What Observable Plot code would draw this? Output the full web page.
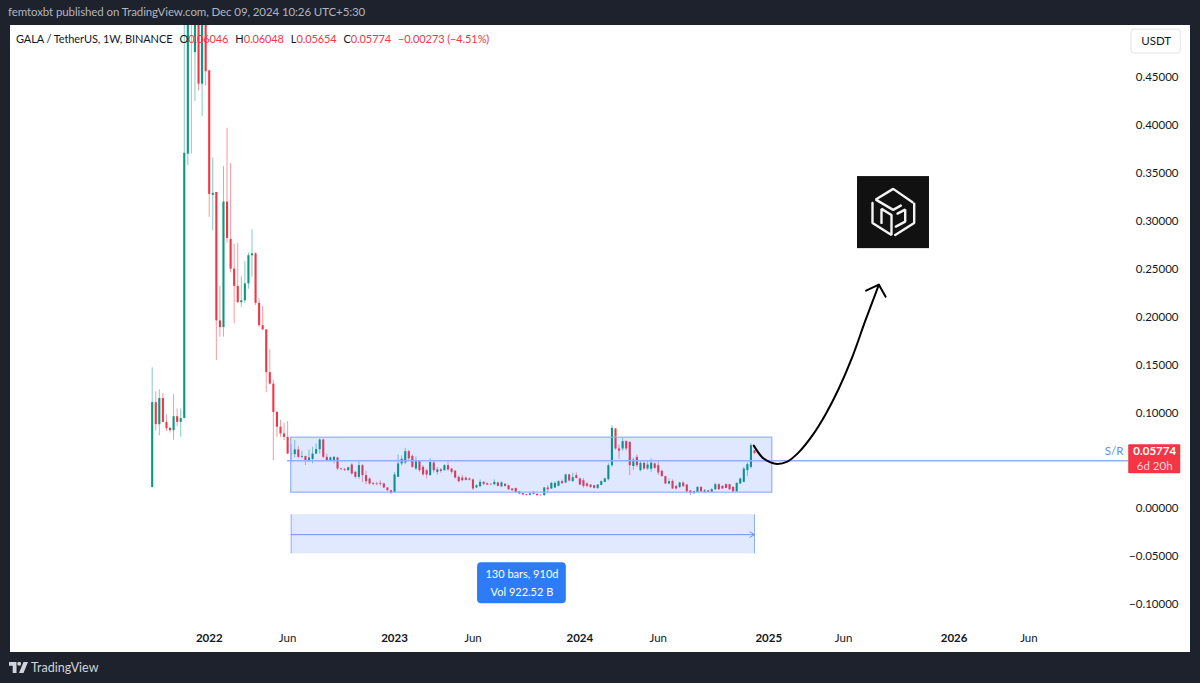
<!DOCTYPE html>
<html>
<head>
<meta charset="utf-8">
<script src="https://cdn.jsdelivr.net/npm/d3@7"></script>
<script src="https://cdn.jsdelivr.net/npm/@observablehq/plot@0.6"></script>
<style>
html,body{margin:0;padding:0;background:#1e222d;width:1200px;height:683px;overflow:hidden;font-family:Lato,sans-serif}
#head{height:25px;line-height:24px;padding-left:8px;box-sizing:border-box;color:#b2b5be;font-size:11.5px;letter-spacing:-.1px;white-space:nowrap}
#wrap{position:relative;margin-left:10px;width:1180px;height:627px;background:#fff}
#wrap svg{display:block}
#legend{position:absolute;left:6px;top:6px;font-size:11px;letter-spacing:-.1px;line-height:16px;color:#131722;white-space:nowrap}
#legend span{margin-right:7px}
#legend b{font-weight:400;color:#f23645}
#foot{height:31px;display:flex;align-items:center;padding-left:9px;color:#d1d4dc;font-size:12.5px}
#foot svg{margin-right:3px}
</style>
</head>
<body>
<div id="head">femtoxbt published on TradingView.com, Dec 09, 2024 10:26 UTC+5:30</div>
<div id="wrap"><div id="legend"></div></div>
<div id="foot"><svg width="19" height="11" viewBox="0 0 19 11"><path fill="#d1d4dc" d="M0 0h7.500v11H3.700V3.700H0zM14.500 0H19l-4.500 11H10zM8.300 1.800a1.900 1.900 0 1 0 3.800 0a1.900 1.900 0 1 0-3.800 0"/></svg><span>TradingView</span></div>
<script>
const firstBar = "2021-09-13";
const opens = [
.022,.1107,.0877,.115,.09,.0838,.0814,.096,.0901,.094,
.37,.75,.476,.65,.443,.62,.457,.327,.33,.196,
.189,.32,.281,.25,.232,.215,.217,.2346,.264,.266,
.2143,.191,.1866,.142,.13,.1005,.085,.078,.0744,.057,
.0564,.0613,.0536,.0545,.0494,.0513,.057,.0616,.0717,.0536,
.05,.05,.0529,.0414,.0407,.0397,.0456,.0379,.0327,.0449,
.0345,.031,.0264,.0258,.0264,.0258,.0216,.0188,.017,.0327,
.0467,.0477,.0595,.0546,.0414,.0494,.0431,.0397,.0345,.0477,
.0379,.0405,.0397,.0449,.0414,.039,.0327,.032,.0319,.031,
.03,.0216,.023,.0275,.026,.0255,.025,.0268,.0228,.0255,
.024,.0205,.021,.0177,.0157,.0146,.014,.0164,.015,.014,
.0136,.0216,.0205,.0216,.0233,.0282,.0268,.0352,.0282,.0345,
.031,.0292,.0258,.0247,.024,.0212,.0243,.0275,.0303,.0449,
.0832,.0623,.0623,.07,.0692,.044,.0536,.0397,.0473,.0414,
.0412,.0467,.0449,.039,.0334,.0258,.0285,.0233,.0222,.0268,
.0247,.0185,.0157,.017,.0222,.0172,.0187,.0172,.0198,.025,
.0233,.025,.025,.0222,.0177,.0258,.0275,.0397,.0431,.06046];
const closes = [
.1107,.0877,.115,.09,.0835,.0814,.096,.0901,.094,.371,
.62,.62,.62,.443,.62,.456,.328,.329,.196,.189,
.32,.282,.25,.232,.215,.217,.2346,.264,.266,.2143,
.191,.1866,.142,.13,.1005,.085,.078,.0744,.057,.0564,
.0613,.0536,.0545,.0494,.053,.057,.0616,.0717,.0536,.05,
.053,.0536,.0414,.0407,.0397,.0428,.0362,.0327,.0449,.0345,
.0282,.0258,.0254,.025,.0254,.0216,.0188,.016,.0352,.0467,
.0516,.0595,.052,.0431,.049,.0397,.0352,.0352,.0483,.0397,
.0405,.0388,.0449,.0404,.0379,.032,.0282,.0292,.0295,.0298,
.0206,.024,.0275,.0254,.0247,.025,.0275,.0233,.027,.0233,
.0198,.0188,.017,.0153,.0143,.0139,.0155,.015,.0136,.0136,
.0216,.0198,.0264,.0264,.0282,.026,.0352,.0289,.0324,.0315,
.0247,.0233,.0233,.0222,.0212,.0247,.0282,.031,.0449,.0838,
.0623,.06,.07,.0623,.0449,.0508,.0449,.0473,.0414,.0456,
.0476,.0421,.0372,.0334,.0258,.0282,.0206,.0206,.0268,.023,
.0177,.0164,.0177,.0222,.0177,.0187,.0172,.0198,.025,.0198,
.0206,.0212,.0198,.0177,.0264,.031,.0414,.046,.0658,.05774];
const highs = [
.147,.122,.124,.12,.098,.085,.119,.104,.104,.6,
.68,.8,.7,.7,.7,.7,.457,.366,.33,.232,
.357,.397,.36,.276,.277,.242,.258,.267,.291,.267,
.219,.211,.187,.166,.134,.1015,.092,.089,.091,.0668,
.071,.0647,.06,.055,.0613,.064,.0675,.0728,.0728,.057,
.054,.0545,.0536,.042,.042,.043,.047,.039,.05,.046,
.039,.032,.0275,.0275,.029,.0265,.022,.019,.0376,.056,
.055,.063,.061,.056,.054,.05,.045,.041,.052,.049,
.043,.042,.046,.05,.042,.04,.034,.035,.033,.032,
.031,.025,.03,.0285,.027,.026,.03,.028,.028,.026,
.0245,.021,.0215,.018,.016,.015,.016,.018,.0155,.0145,
.022,.024,.0275,.028,.029,.03,.036,.036,.037,.0372,
.032,.0315,.027,.025,.0245,.025,.029,.032,.047,.0867,
.0835,.0665,.0734,.071,.07,.053,.056,.05,.05,.05,
.052,.048,.05,.04,.034,.031,.03,.024,.0275,.028,
.0255,.019,.018,.023,.023,.02,.019,.021,.0265,.026,
.024,.026,.0255,.023,.027,.032,.043,.048,.0679,.06048];
const lows = [
.022,.081,.076,.09,.0805,.079,.071,.0856,.0744,.094,
.358,.37,.425,.436,.409,.441,.304,.29,.1545,.179,
.179,.277,.246,.193,.214,.21,.214,.229,.2415,.212,
.189,.186,.121,.129,.05,.0744,.0744,.071,.0564,.05,
.053,.052,.052,.045,.048,.0467,.0564,.057,.0522,.049,
.049,.0467,.0397,.0397,.039,.039,.035,.031,.0303,.0275,
.025,.0245,.024,.024,.0235,.021,.018,.0145,.0165,.0325,
.0445,.046,.05,.042,.04,.038,.034,.031,.034,.037,
.035,.037,.039,.039,.036,.031,.027,.028,.029,.029,
.0188,.021,.022,.024,.024,.024,.024,.023,.022,.0225,
.019,.018,.016,.0145,.0135,.013,.0135,.0145,.0125,.013,
.013,.0155,.02,.021,.023,.0255,.026,.028,.028,.031,
.024,.0215,.022,.021,.0205,.02,.024,.027,.029,.043,
.061,.0512,.06,.06,.0345,.04,.043,.0385,.04,.04,
.038,.041,.0345,.033,.025,.025,.02,.0195,.021,.022,
.0165,.0136,.015,.0165,.017,.0165,.0165,.0165,.019,.019,
.02,.0205,.019,.017,.017,.025,.027,.0334,.0414,.05654];

// the 0.05000 label is hidden behind the last-price tag in the reference
const priceTicks = [-0.1,-0.05,0,0.1,0.15,0.2,0.25,0.3,0.35,0.4,0.45];
const yearTicks = ["2022-01-03","2023-01-02","2024-01-01","2025-01-06","2026-01-05"];
const monthTicks = ["2022-06-06","2023-06-05","2024-06-03","2025-06-02","2026-06-01"];

// drawings, positioned in bar numbers (weeks since the first bar) and prices
const rangeBox = [{b1:39,b2:174,p1:0.0167,p2:0.0741}];
const srLine = [{b1:38,b2:274,p:0.0501}];
const measureBand = [{b1:39,b2:169,p1:-0.0471,p2:-0.0063}];
const measureArrow = [{b1:39,b2:169,p:-0.0271}];
const infoBox = [{b1:91.3,b2:116.2,p1:-0.0992,p2:-0.0564}];
const infoText = [{b:103.75,p:-0.0689,t:"130 bars, 910d"},{b:103.75,p:-0.0877,t:"Vol 922.52 B"}];
const priceBox = [{b1:274,b2:288.6,p1:0.0365,p2:0.0668}];
const priceMain = [{b:281.3,p:0.0595,t:"0.05774"}];
const priceSub = [{b:281.3,p:0.0443,t:"6d 20h"}];
const srText = [{b:272.5,p:0.0595,t:"S/R"}];
const unitBox = [{b1:274.8,b2:288.6,p1:0.475,p2:0.5}];
const unitText = [{b:281.7,p:0.4875,t:"USDT"}];
const curveBars = [168.8,171.2,173.5,175.4,178.2,181.4,185.2,189,192.6,196.4,200.1,203.9];
const curvePrices = [.0658,.0535,.0483,.0467,.0491,.0588,.0762,.0989,.1249,.1579,.1962,.2338];
const headBars = [200.3,203.9,205.8];
const headPrices = [.2276,.2338,.2213];
const logoBox = [{b1:197.9,b2:218.1,p1:0.2714,p2:0.3466}];
// logo glyph strokes inside its 72-unit square
const logoStrokes = {
  top:[[55,25.7],[35.7,12.3],[18.3,23],[35.7,33.3],[43.3,29]],
  left:[[15,26.3],[15,46.3],[34,58.3],[34,38.3],[24,32.3],[24,46.3]],
  right:[[37.7,58.3],[56.7,46.3],[56.7,27]],
  inner:[[40,37],[47.7,33],[47.7,45],[38.3,50]]
};
const legendName = "GALA / TetherUS, 1W, BINANCE";
const legendFields = [["O","0.06046"],["H","0.06048"],["L","0.05654"],["C","0.05774"]];
const legendChange = "−0.00273 (−4.51%)";

const barDate = b => new Date(Date.parse(firstBar) + b * 7 * 864e5);
const up = "#089981", down = "#f23645", blue = "#90b1fa";
const bars = opens.map((o,i)=>({d:barDate(i),o,c:closes[i],h:highs[i],l:lows[i],col:closes[i]>=o?up:down}));
const curve = curveBars.map((b,i)=>({d:barDate(b),p:curvePrices[i]}));
const head = headBars.map((b,i)=>({d:barDate(b),p:headPrices[i]}));
const logo = Object.entries(logoStrokes).flatMap(([k,pts])=>pts.map(([u,w])=>({
  k,d:barDate(logoBox[0].b1+u*(logoBox[0].b2-logoBox[0].b1)/72),
  p:logoBox[0].p2-w*(logoBox[0].p2-logoBox[0].p1)/72})));
const rectOf = (data,opt)=>Plot.rect(data,{x1:d=>barDate(d.b1),x2:d=>barDate(d.b2),y1:"p1",y2:"p2",...opt});
const font = 'Lato,sans-serif';

const chart = Plot.plot({
  width:1180,height:627,marginTop:0,marginLeft:0,marginRight:66,marginBottom:30,
  style:{background:"#fff",fontFamily:font},
  x:{type:"utc",domain:[barDate(0),barDate(169)],range:[141.7,744],label:null},
  y:{type:"linear",domain:[-0.1,0.45],range:[579,52],label:null},
  marks:[
    Plot.axisY({anchor:"right",ticks:priceTicks,tickSize:0,tickPadding:54,textAnchor:"end",fontSize:11.5,fill:"#131722",label:null,
      tickFormat:v=>(v<0?"−":"")+Math.abs(v).toFixed(5)}),
    Plot.axisX({anchor:"bottom",ticks:yearTicks.map(d=>new Date(d)),tickSize:0,tickPadding:11,fontSize:11.5,fontWeight:700,fill:"#131722",label:null,
      tickFormat:d=>d3.utcFormat("%Y")(d)}),
    Plot.axisX({anchor:"bottom",ticks:monthTicks.map(d=>new Date(d)),tickSize:0,tickPadding:11,fontSize:11.5,fill:"#131722",label:null,
      tickFormat:d=>d3.utcFormat("%b")(d)}),
    Plot.ruleX(bars,{x:"d",y1:"l",y2:"h",stroke:"col",strokeWidth:1,strokeOpacity:0.5}),
    Plot.ruleX(bars,{x:"d",y1:"o",y2:"c",stroke:"col",strokeWidth:2.1}),
    rectOf(rangeBox,{fill:"#2962ff",fillOpacity:0.15,stroke:blue,strokeWidth:1.2}),
    Plot.ruleY(srLine,{y:"p",x1:d=>barDate(d.b1),x2:d=>barDate(d.b2),stroke:blue,strokeWidth:1.5}),
    rectOf(measureBand,{fill:"#2962ff",fillOpacity:0.14}),
    Plot.ruleX(measureBand,{x:d=>barDate(d.b1),y1:"p1",y2:"p2",stroke:blue}),
    Plot.ruleX(measureBand,{x:d=>barDate(d.b2),y1:"p1",y2:"p2",stroke:blue}),
    Plot.arrow(measureArrow,{x1:d=>barDate(d.b1),x2:d=>barDate(d.b2),y1:"p",y2:"p",stroke:"#6f90f7",strokeWidth:1,headLength:8}),
    rectOf(infoBox,{fill:"#2e7bf6",rx:4}),
    Plot.text(infoText,{x:d=>barDate(d.b),y:"p",text:"t",fill:"#fff",fontSize:11}),
    Plot.line(curve,{x:"d",y:"p",curve:"catmull-rom",stroke:"#000",strokeWidth:2}),
    Plot.line(head,{x:"d",y:"p",stroke:"#000",strokeWidth:2}),
    rectOf(logoBox,{fill:"#111"}),
    Plot.line(logo,{x:"d",y:"p",z:"k",stroke:"#f2f2f2",strokeWidth:2.4,strokeLinejoin:"miter"}),
    Plot.text(srText,{x:d=>barDate(d.b),y:"p",text:"t",textAnchor:"end",fill:"#5b8df5",fontSize:11.5}),
    rectOf(priceBox,{fill:down,rx:1}),
    Plot.text(priceMain,{x:d=>barDate(d.b),y:"p",text:"t",fill:"#fff",fontSize:11.5,fontWeight:700}),
    Plot.text(priceSub,{x:d=>barDate(d.b),y:"p",text:"t",fill:"#ffd5d9",fontSize:11.5}),
    rectOf(unitBox,{fill:"#fff",stroke:"#e0e3eb",rx:3}),
    Plot.text(unitText,{x:d=>barDate(d.b),y:"p",text:"t",fill:"#131722",fontSize:11.5})
  ]
});
document.getElementById("wrap").prepend(chart);
document.getElementById("legend").innerHTML =
  `<span style="margin-right:7px">${legendName}</span>`+
  legendFields.map(([k,v])=>`<span>${k}<b>${v}</b></span>`).join("")+
  `<b>${legendChange}</b>`;
</script>
</body>
</html>
